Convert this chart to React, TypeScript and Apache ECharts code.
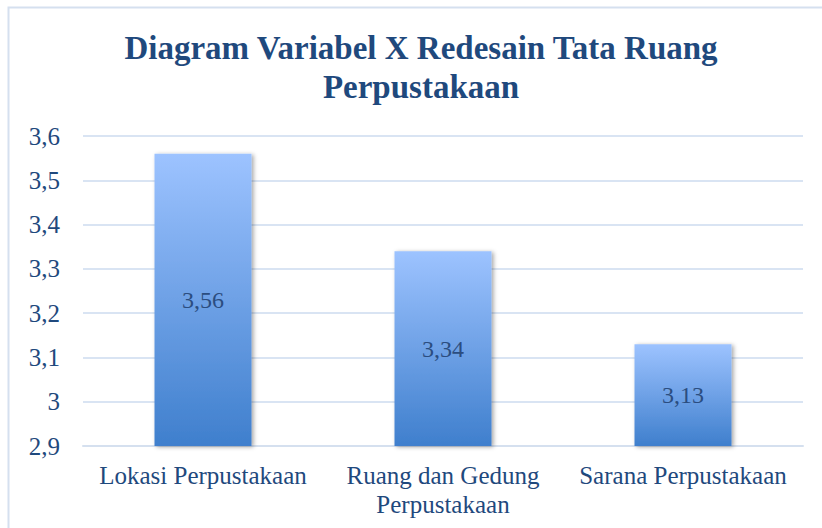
import React, { useEffect, useRef } from "react";
import * as echarts from "echarts";

const titleText = "Diagram Variabel X Redesain Tata Ruang\nPerpustakaan";
const categories = ["Lokasi Perpustakaan", "Ruang dan Gedung\nPerpustakaan", "Sarana Perpustakaan"];
const values = [3.56, 3.34, 3.13];
const yMin = 2.9;
const yMax = 3.6;
const yStep = 0.1;

const FONT = "'Liberation Serif', 'DejaVu Serif', serif";
const TEXT_COLOR = "#1F497D";

const fmt = (v: number) => String(Number(v.toFixed(2))).replace(".", ",");

export default function App() {
  const ref = useRef<HTMLDivElement>(null);
  useEffect(() => {
    if (!ref.current) return;
    const chart = echarts.init(ref.current, undefined, { renderer: "svg" });
    chart.setOption({
      animation: false,
      backgroundColor: "#ffffff",
      title: {
        text: titleText,
        left: 416,
        textAlign: "center",
        top: 23,
        textStyle: {
          fontFamily: FONT,
          fontWeight: "bold",
          fontSize: 33,
          lineHeight: 39,
          color: TEXT_COLOR,
        },
      },
      graphic: [
        {
          type: "rect",
          shape: { x: 8.5, y: 7.5, width: 830, height: 540 },
          style: { fill: "none", stroke: "#D5E0EF", lineWidth: 2 },
          silent: true,
        },
      ],
      grid: { left: 83, right: 19, top: 136, bottom: 82 },
      xAxis: {
        type: "category",
        data: categories,
        axisTick: { show: false },
        axisLine: { lineStyle: { color: "#D5E0EF", width: 2 } },
        axisLabel: {
          fontFamily: FONT,
          fontSize: 25,
          lineHeight: 29,
          color: TEXT_COLOR,
          margin: 15,
          interval: 0,
        },
      },
      yAxis: {
        type: "value",
        min: yMin,
        max: yMax,
        interval: yStep,
        axisLine: { show: false },
        axisTick: { show: false },
        splitLine: { lineStyle: { color: "#D9E4F3", width: 2 } },
        axisLabel: {
          fontFamily: FONT,
          fontSize: 25,
          color: TEXT_COLOR,
          margin: 23,
          formatter: (v: number) => fmt(v),
        },
      },
      series: [
        {
          type: "bar",
          data: values,
          barWidth: 97,
          itemStyle: {
            color: new echarts.graphic.LinearGradient(0, 0, 0, 1, [
              { offset: 0, color: "#9DC3FF" },
              { offset: 1, color: "#3F7FCD" },
            ]),
            shadowColor: "rgba(0,0,0,0.35)",
            shadowBlur: 4,
            shadowOffsetX: 2,
            shadowOffsetY: 1,
          },
          label: {
            show: true,
            position: "inside",
            fontFamily: FONT,
            fontSize: 24,
            color: "#2B4D80",
            formatter: (p: any) => fmt(p.value),
          },
        },
      ],
    });
    return () => chart.dispose();
  }, []);
  return (
    <div
      ref={ref}
      style={{ position: "fixed", left: 0, top: 0, width: 822, height: 528 }}
    />
  );
}
